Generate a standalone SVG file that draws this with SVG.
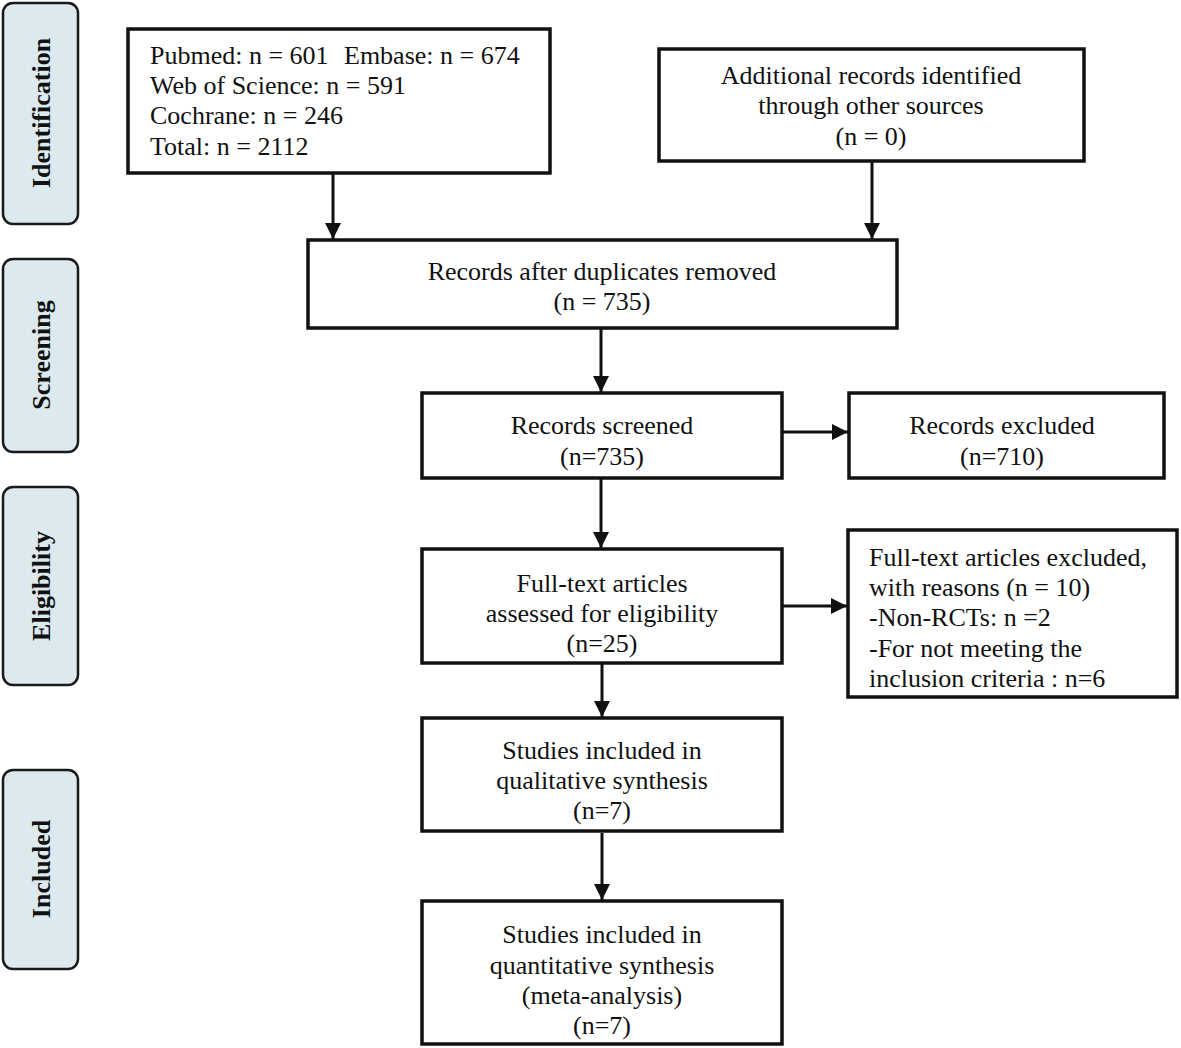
<svg xmlns="http://www.w3.org/2000/svg" width="1181" height="1048" viewBox="0 0 1181 1048">
<defs>
<style>
.stage{fill:#dce9ee;stroke:#1a1a1a;stroke-width:2.5}
.stage-t{font-family:"Liberation Serif","Times New Roman",serif;font-weight:bold;font-size:26px;fill:#111;text-anchor:middle}
.box{fill:#fff;stroke:#111;stroke-width:3.5}
.t{font-family:"Liberation Serif","Times New Roman",serif;font-size:26px;fill:#111}
.c{text-anchor:middle}
.conn{stroke:#111;stroke-width:3;fill:none;marker-end:url(#ah)}
</style>
<marker id="ah" viewBox="0 0 10 10" refX="10" refY="5" markerWidth="5.5" markerHeight="5.5" markerUnits="strokeWidth" orient="auto">
<path d="M0,0 L10,5 L0,10 z" fill="#111"/>
</marker>
</defs>
<rect width="1181" height="1048" fill="#fff"/>

<g id="stage-identification">
<rect class="stage" x="3" y="3" width="75" height="221" rx="10"/>
<text class="stage-t" transform="translate(50,113) rotate(-90)">Identification</text>
</g>
<g id="stage-screening">
<rect class="stage" x="3" y="259" width="75" height="193" rx="10"/>
<text class="stage-t" transform="translate(50,355) rotate(-90)">Screening</text>
</g>
<g id="stage-eligibility">
<rect class="stage" x="3" y="487" width="75" height="198" rx="10"/>
<text class="stage-t" transform="translate(50,586) rotate(-90)">Eligibility</text>
</g>
<g id="stage-included">
<rect class="stage" x="3" y="770" width="75" height="199" rx="10"/>
<text class="stage-t" transform="translate(50,869) rotate(-90)">Included</text>
</g>

<g id="node-databases">
<rect class="box" x="128" y="29" width="422" height="144"/>
<text class="t" x="150" y="64">Pubmed: n = 601<tspan x="344">Embase: n = 674</tspan></text>
<text class="t" x="150" y="94">Web of Science: n = 591</text>
<text class="t" x="150" y="124">Cochrane: n = 246</text>
<text class="t" x="150" y="155">Total: n = 2112</text>
</g>
<g id="node-additional">
<rect class="box" x="659" y="49" width="425" height="112"/>
<text class="t c" x="871" y="84">Additional records identified</text>
<text class="t c" x="871" y="114">through other sources</text>
<text class="t c" x="871" y="145">(n = 0)</text>
</g>
<g id="node-duplicates">
<rect class="box" x="308" y="240" width="589" height="88"/>
<text class="t c" x="602" y="280">Records after duplicates removed</text>
<text class="t c" x="602" y="310">(n = 735)</text>
</g>
<g id="node-screened">
<rect class="box" x="422" y="393" width="360" height="85"/>
<text class="t c" x="602" y="434">Records screened</text>
<text class="t c" x="602" y="465">(n=735)</text>
</g>
<g id="node-excluded">
<rect class="box" x="849" y="393" width="315" height="85"/>
<text class="t c" x="1002" y="434">Records excluded</text>
<text class="t c" x="1002" y="465">(n=710)</text>
</g>
<g id="node-fulltext">
<rect class="box" x="422" y="549" width="360" height="114"/>
<text class="t c" x="602" y="592">Full-text articles</text>
<text class="t c" x="602" y="622">assessed for eligibility</text>
<text class="t c" x="602" y="652">(n=25)</text>
</g>
<g id="node-fulltext-excluded">
<rect class="box" x="848" y="530" width="329" height="167"/>
<text class="t" x="869" y="566">Full-text articles excluded,</text>
<text class="t" x="869" y="596">with reasons (n = 10)</text>
<text class="t" x="869" y="626">-Non-RCTs: n =2</text>
<text class="t" x="869" y="657">-For not meeting the</text>
<text class="t" x="869" y="687">inclusion criteria : n=6</text>
</g>
<g id="node-qualitative">
<rect class="box" x="422" y="718" width="360" height="113"/>
<text class="t c" x="602" y="759">Studies included in</text>
<text class="t c" x="602" y="789">qualitative synthesis</text>
<text class="t c" x="602" y="819">(n=7)</text>
</g>
<g id="node-quantitative">
<rect class="box" x="422" y="901" width="360" height="143"/>
<text class="t c" x="602" y="943">Studies included in</text>
<text class="t c" x="602" y="974">quantitative synthesis</text>
<text class="t c" x="602" y="1004">(meta-analysis)</text>
<text class="t c" x="602" y="1034">(n=7)</text>
</g>

<g id="connectors">
<line class="conn" x1="333" y1="173" x2="333" y2="239"/>
<line class="conn" x1="872" y1="161" x2="872" y2="239"/>
<line class="conn" x1="601" y1="328" x2="601" y2="392"/>
<line class="conn" x1="782" y1="432" x2="848" y2="432"/>
<line class="conn" x1="601" y1="478" x2="601" y2="548"/>
<line class="conn" x1="782" y1="606" x2="847" y2="606"/>
<line class="conn" x1="602" y1="663" x2="602" y2="717"/>
<line class="conn" x1="602" y1="833" x2="602" y2="900"/>
</g>
</svg>
